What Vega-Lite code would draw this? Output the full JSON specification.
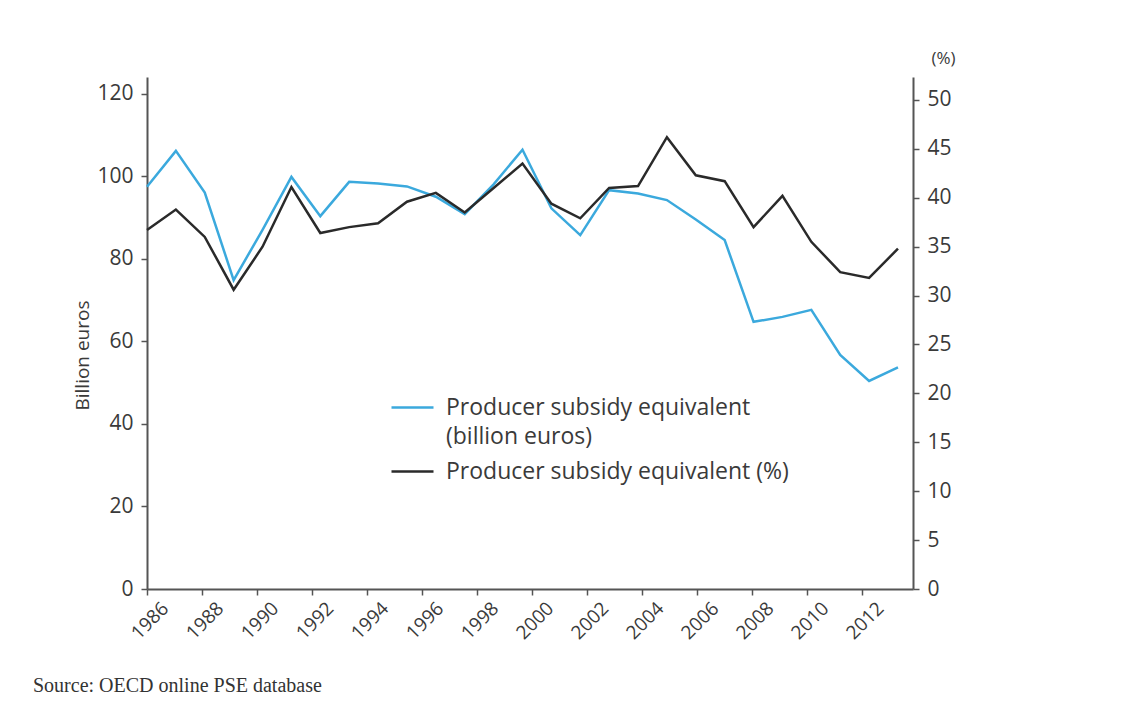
{
  "$schema": "https://vega.github.io/schema/vega-lite/v6.json",
  "width": 766,
  "height": 512,
  "autosize": {"type": "none"},
  "padding": {"left": 147, "top": 77, "right": 216, "bottom": 119},
  "background": "white",
  "config": {
    "view": {"stroke": null},
    "font": "Open Sans",
    "style": {"guide-label": {"lineHeight": 29}},
    "axis": {
      "grid": false,
      "domainColor": "#555555",
      "domainWidth": 2,
      "tickColor": "#555555",
      "tickWidth": 1.5,
      "tickSize": 6,
      "labelColor": "#3a3a3a",
      "labelFont": "Open Sans",
      "titleFont": "Open Sans",
      "titleColor": "#3a3a3a",
      "titleFontWeight": "normal"
    }
  },
  "data": {
    "values": [
      {"year": 1986, "bn": 97.4, "pct": 36.7},
      {"year": 1987, "bn": 106.1, "pct": 38.8},
      {"year": 1988, "bn": 96.0, "pct": 36.0},
      {"year": 1989, "bn": 74.8, "pct": 30.6},
      {"year": 1990, "bn": 87.0, "pct": 35.0},
      {"year": 1991, "bn": 99.8, "pct": 41.1},
      {"year": 1992, "bn": 90.3, "pct": 36.4},
      {"year": 1993, "bn": 98.6, "pct": 37.0},
      {"year": 1994, "bn": 98.2, "pct": 37.4},
      {"year": 1995, "bn": 97.5, "pct": 39.6},
      {"year": 1996, "bn": 95.0, "pct": 40.5},
      {"year": 1997, "bn": 90.8, "pct": 38.5},
      {"year": 1998, "bn": 98.0, "pct": 41.0},
      {"year": 1999, "bn": 106.4, "pct": 43.5},
      {"year": 2000, "bn": 92.2, "pct": 39.4},
      {"year": 2001, "bn": 85.7, "pct": 37.9},
      {"year": 2002, "bn": 96.6, "pct": 41.0},
      {"year": 2003, "bn": 95.8, "pct": 41.2},
      {"year": 2004, "bn": 94.2, "pct": 46.2},
      {"year": 2005, "bn": 89.5, "pct": 42.3},
      {"year": 2006, "bn": 84.5, "pct": 41.7},
      {"year": 2007, "bn": 64.7, "pct": 37.0},
      {"year": 2008, "bn": 65.9, "pct": 40.2},
      {"year": 2009, "bn": 67.6, "pct": 35.5},
      {"year": 2010, "bn": 56.7, "pct": 32.4},
      {"year": 2011, "bn": 50.4, "pct": 31.8},
      {"year": 2012, "bn": 53.7, "pct": 34.8}
    ]
  },
  "title": {
    "text": "Source: OECD online PSE database",
    "orient": "bottom",
    "anchor": "start",
    "frame": "group",
    "font": "Liberation Serif",
    "fontSize": 20,
    "fontWeight": "normal",
    "color": "#333333",
    "dx": -114,
    "offset": 33
  },
  "layer": [
    {
      "mark": {"type": "point", "opacity": 0},
      "encoding": {
        "x": {
          "field": "year",
          "type": "quantitative",
          "scale": {"domain": [1986, 2013.85], "nice": false, "zero": false},
          "axis": {
            "values": [1986, 1988, 1990, 1992, 1994, 1996, 1998, 2000, 2002, 2004, 2006, 2008, 2010, 2012],
            "format": "d",
            "title": null,
            "labelAngle": -45,
            "labelAlign": "right",
            "labelBaseline": "middle",
            "labelFontSize": 19,
            "labelPadding": 10,
            "labelOffset": 18,
            "labelOverlap": false,
            "labelFlush": false
          }
        }
      }
    },
    {
      "mark": {"type": "line", "strokeWidth": 2.5},
      "encoding": {
        "x": {
          "field": "year",
          "type": "quantitative",
          "scale": {"domain": [1986, 2012.52], "nice": false, "zero": false},
          "axis": null
        },
        "y": {
          "field": "bn",
          "type": "quantitative",
          "scale": {"domain": [0, 124], "nice": false},
          "axis": {
            "values": [0, 20, 40, 60, 80, 100, 120],
            "title": "Billion euros",
            "titleFontSize": 19,
            "titleAngle": 270,
            "titleX": -65,
            "titleY": 278,
            "titleAlign": "center",
            "titleBaseline": "middle",
            "labelFontSize": 21,
            "labelPadding": 8
          }
        },
        "color": {
          "datum": "Producer subsidy equivalent (billion euros)",
          "type": "nominal",
          "scale": {
            "domain": ["Producer subsidy equivalent (billion euros)", "Producer subsidy equivalent (%)"],
            "range": ["#3ba9dd", "#2a2a2a"]
          },
          "legend": {
            "orient": "none",
            "legendX": 243,
            "legendY": 308,
            "title": null,
            "padding": 0,
            "symbolType": "stroke",
            "symbolSize": 1764,
            "symbolStrokeWidth": 2.5,
            "labelFont": "Open Sans",
            "labelFontSize": 23,
            "labelColor": "#3a3a3a",
            "labelOffset": 11,
            "labelLimit": 0,
            "rowPadding": -12,
            "labelExpr": "datum.label == 'Producer subsidy equivalent (billion euros)' ? ['Producer subsidy equivalent', '(billion euros)'] : datum.label"
          }
        }
      }
    },
    {
      "mark": {"type": "line", "strokeWidth": 2.5},
      "encoding": {
        "x": {
          "field": "year",
          "type": "quantitative",
          "scale": {"domain": [1986, 2012.52], "nice": false, "zero": false},
          "axis": null
        },
        "y": {
          "field": "pct",
          "type": "quantitative",
          "scale": {"domain": [0, 52.35], "nice": false},
          "axis": {
            "orient": "right",
            "values": [0, 5, 10, 15, 20, 25, 30, 35, 40, 45, 50],
            "title": "(%)",
            "titleFontSize": 17,
            "titleAngle": 0,
            "titleX": 30,
            "titleY": -19,
            "titleAlign": "center",
            "titleBaseline": "middle",
            "labelFontSize": 21,
            "labelPadding": 8
          }
        },
        "color": {
          "datum": "Producer subsidy equivalent (%)",
          "type": "nominal"
        }
      }
    }
  ],
  "resolve": {"scale": {"x": "independent", "y": "independent"}}
}
